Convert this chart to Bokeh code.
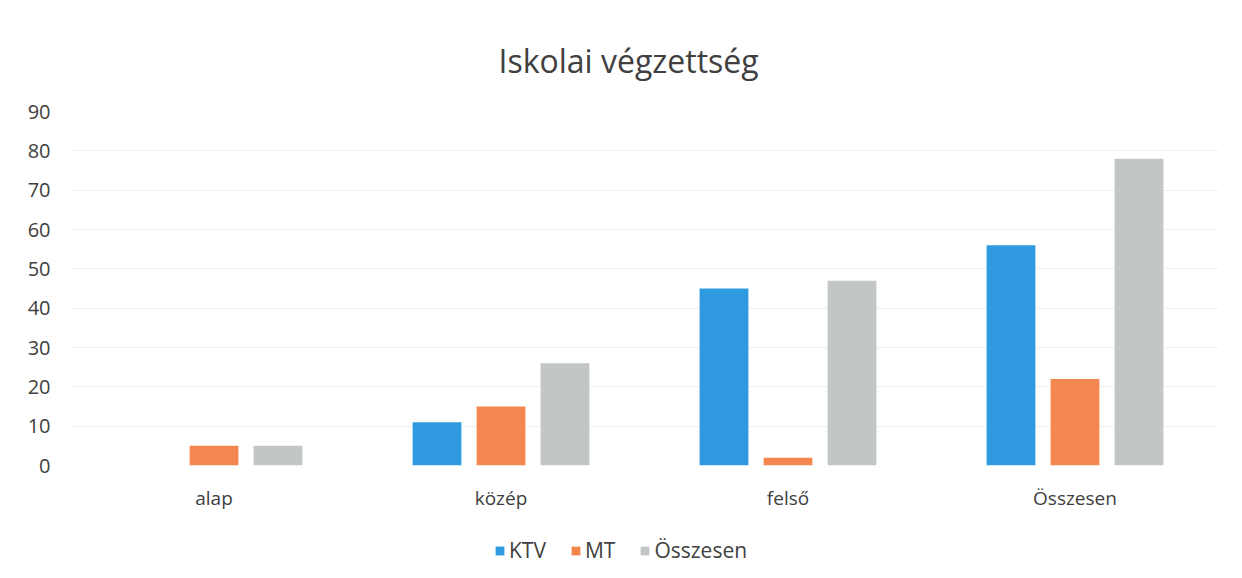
from bokeh.plotting import figure
from bokeh.layouts import column
from bokeh.models import FactorRange, Legend, LegendItem, Range1d, ColumnDataSource, FixedTicker
from bokeh.transform import dodge
from bokeh.embed import file_html
from bokeh.resources import INLINE

categories = ["alap", "közép", "felső", "Összesen"]
ktv = [0, 11, 45, 56]
mt = [5, 15, 2, 22]
osszesen = [5, 26, 47, 78]
series_names = ["KTV", "MT", "Összesen"]
y_ticks = [0, 10, 20, 30, 40, 50, 60, 70, 80, 90]

colors = ["#2f9ae0", "#f4874f", "#c3c6c6"]
text_color = "#404040"
font = "Open Sans"

src = ColumnDataSource(dict(cat=categories, ktv=ktv, mt=mt, ossz=osszesen))

p = figure(x_range=FactorRange(*categories), y_range=Range1d(0, 90),
           width=1242, height=520, output_backend="svg", toolbar_location=None,
           title="Iskolai végzettség",
           min_border_left=70, min_border_right=24, min_border_top=111, min_border_bottom=55)

p.title.align = "left"
p.title.text_font = font
p.title.text_font_size = "32px"
p.title.text_font_style = "normal"
p.title.text_color = text_color
p.title.standoff = 60
p.title.offset = 428

offs = [-0.223, 0.0, 0.223]
fields = ["ktv", "mt", "ossz"]
for off, f, c in zip(offs, fields, colors):
    p.vbar(x=dodge("cat", off, range=p.x_range), top=f, width=0.17, source=src,
           fill_color=c, line_color=None)

p.outline_line_color = None
p.background_fill_color = "white"
p.border_fill_color = "white"

p.xgrid.grid_line_color = None
p.ygrid.grid_line_color = "#efefef"
p.yaxis.ticker = FixedTicker(ticks=y_ticks)

for ax in (p.xaxis[0], p.yaxis[0]):
    ax.axis_line_color = None
    ax.major_tick_line_color = None
    ax.minor_tick_line_color = None
    ax.major_tick_out = 0
    ax.major_tick_in = 0
    ax.major_label_text_font = font
    ax.major_label_text_font_size = "19px"
    ax.major_label_text_color = text_color

p.yaxis.major_label_text_font_size = "20px"
p.xaxis.major_label_standoff = 19
p.yaxis.major_label_standoff = 20

# legend strip below the chart
lg = figure(x_range=FactorRange(*categories), y_range=Range1d(1000, 1001),
            width=1242, height=58, output_backend="svg", toolbar_location=None,
            x_axis_type=None, y_axis_type=None,
            min_border_left=0, min_border_right=0, min_border_top=0, min_border_bottom=0)
lg.outline_line_color = None
lg.xgrid.grid_line_color = None
lg.ygrid.grid_line_color = None
rs = []
for off, f, c in zip(offs, fields, colors):
    r = lg.vbar(x=dodge("cat", off, range=lg.x_range), top=f, width=0.17, source=src,
                fill_color=c, line_color=None)
    rs.append(r)

legend = Legend(items=[LegendItem(label=n, renderers=[r]) for n, r in zip(series_names, rs)],
                orientation="horizontal", location=(424, 14))
legend.border_line_color = None
legend.background_fill_alpha = 0
legend.label_text_font = font
legend.label_text_font_size = "21px"
legend.label_text_color = text_color
legend.glyph_width = 11
legend.glyph_height = 11
legend.label_standoff = 4
legend.spacing = 24
legend.margin = 0
legend.padding = 0
lg.add_layout(legend, "center")

layout = column(p, lg, spacing=0)
open("out.html", "w").write(file_html(layout, INLINE))
